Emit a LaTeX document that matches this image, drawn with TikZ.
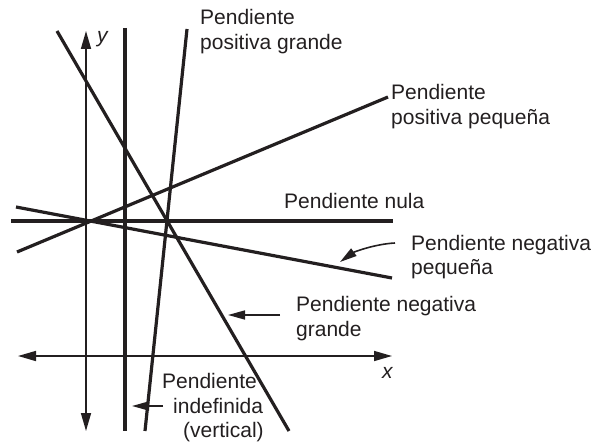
\documentclass[tikz,border=0pt]{standalone}
\usepackage{fontspec}
\setmainfont{Liberation Sans}
\usetikzlibrary{arrows.meta}
\definecolor{ink}{HTML}{231F20}
\begin{document}
\begin{tikzpicture}[x=1pt,y=-1pt,
  graphline/.style={line width=3.2pt,color=ink},
  axis/.style={line width=1.6pt,color=ink,{Triangle[length=18pt,width=10pt]}-{Triangle[length=18pt,width=10pt]}},
  lbl/.style={font=\fontsize{21}{24}\selectfont,anchor=base west,inner sep=0pt,text=ink},
  axlbl/.style={font=\fontsize{21}{24}\selectfont\itshape,anchor=base west,inner sep=0pt,text=ink},
  pointer/.style={line width=1.6pt,color=ink,-{Triangle[length=17pt,width=9pt]}}]
\useasboundingbox (0,0) rectangle (593,446);

% axes
\coordinate (ya) at (86,31);
\coordinate (yb) at (86,431);
\coordinate (xa) at (18,356);
\coordinate (xb) at (392,356);
\draw[axis] (yb) -- (ya);
\draw[axis] (xa) -- (xb);
\node[axlbl] (ylab) at (97,43) {y};
\node[axlbl] (xlab) at (382,378) {x};

% lines
\coordinate (nulaA) at (11,221);
\coordinate (nulaB) at (393,221);
\coordinate (vertA) at (125,28);
\coordinate (vertB) at (125,431);
\coordinate (pgA) at (145,431);
\coordinate (pgB) at (187,29);
\coordinate (ngA) at (57,31);
\coordinate (ngB) at (289,431);
\coordinate (ppA) at (17,252);
\coordinate (ppB) at (388,97);
\coordinate (npA) at (16,207);
\coordinate (npB) at (392,278);
\draw[graphline] (nulaA) -- (nulaB);
\draw[graphline] (vertA) -- (vertB);
\draw[graphline] (pgA) -- (pgB);
\draw[graphline] (ngA) -- (ngB);
\draw[graphline] (ppA) -- (ppB);
\draw[graphline] (npA) -- (npB);

% labels
\node[lbl] (pg1) at (200,25) {Pendiente};
\node[lbl] (pg2) at (200,50) {positiva grande};
\node[lbl] (pp1) at (391,100) {Pendiente};
\node[lbl] (pp2) at (391,125) {positiva pequeña};
\node[lbl] (nula) at (284,208) {Pendiente nula};
\node[lbl] (np1) at (411,250) {Pendiente negativa};
\node[lbl] (np2) at (411,274) {pequeña};
\node[lbl] (ng1) at (296,311) {Pendiente negativa};
\node[lbl] (ng2) at (296,336) {grande};
\node[lbl] (in1) at (162,388) {Pendiente};
\node[lbl] (in2) at (173,413) {indefinida};
\node[lbl] (in3) at (183,437) {(vertical)};

% pointers
\coordinate (npS) at (395,243);
\coordinate (npT) at (340,262);
\draw[pointer] (npS) .. controls (375,244) and (354,252) .. (npT);
\coordinate (ngS) at (280,315);
\coordinate (ngT) at (228,315);
\draw[pointer] (ngS) -- (ngT);
\coordinate (inS) at (163,406);
\coordinate (inT) at (132,406);
\draw[pointer] (inS) -- (inT);
\end{tikzpicture}
\end{document}
